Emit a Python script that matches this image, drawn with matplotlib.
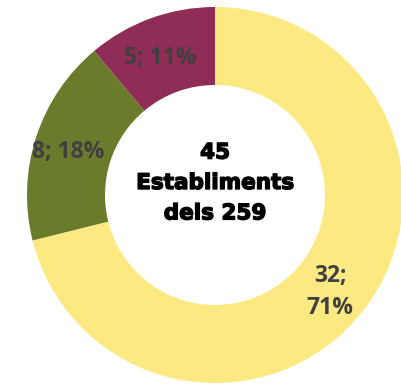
import matplotlib
matplotlib.use("Agg")
import matplotlib.pyplot as plt
import matplotlib.patheffects as pe

values = [32, 8, 5]
percents = [71, 18, 11]
colors = ["#FDE982", "#6B7B2C", "#8F2D57"]
label_pos = [(330, 92), (68, 232), (160, 326)]  # in pixel coords (y up)
center_lines = ["45", "Establiments", "dels 259"]

W, H = 401, 384
fig = plt.figure(figsize=(W / 100, H / 100), dpi=100)
ax = fig.add_axes([0, 0, 1, 1])

cx, cy, R = 215, 384 - 195, 188
ax.pie(values, colors=colors, startangle=90, counterclock=False,
       center=(cx, cy), radius=R,
       wedgeprops=dict(width=R - 110, edgecolor="none", linewidth=0),
       frame=True)
ax.set_xlim(0, W)
ax.set_ylim(0, H)
ax.set_aspect("equal")
ax.axis("off")

lab_font = dict(family=["Open Sans", "DejaVu Sans"], weight="bold", color="#404040", fontsize=16.5)
texts = [f"{values[0]};\n{percents[0]}%", f"{values[1]}; {percents[1]}%", f"{values[2]}; {percents[2]}%"]
for t, (x, y) in zip(texts, label_pos):
    ax.text(x, y, t, ha="center", va="center", linespacing=1.45, **lab_font)

ax.text(cx, 384 - 183, "\n".join(center_lines), ha="center", va="center",
        family=["DejaVu Sans"], weight="bold", fontsize=15.5, color="black",
        linespacing=1.65,
        path_effects=[pe.withStroke(linewidth=1.0, foreground="black")])

fig.savefig("out.png", dpi=100)
